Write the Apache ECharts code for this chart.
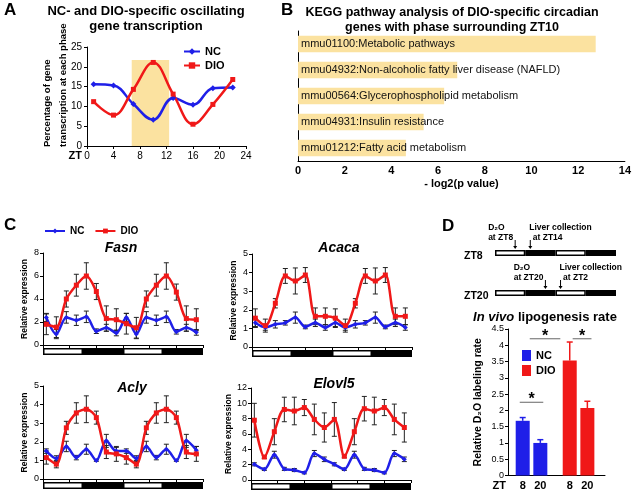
<!DOCTYPE html>
<html><head><meta charset="utf-8">
<script src="https://cdn.jsdelivr.net/npm/echarts@6/dist/echarts.min.js"></script>
<style>html,body{margin:0;padding:0;background:#fff}#c{width:634px;height:492px}</style>
</head><body><div id="c"></div>
<script>
// ---------- Panel A data ----------
const ztA = [1, 4, 7, 10, 13, 16, 19, 22];
const ncA = [15.6, 15.3, 10.6, 6.6, 12.1, 10.4, 14.6, 14.8];
const dioA = [11.2, 7.8, 14.3, 21.1, 13.1, 5.5, 10.5, 16.8];
const bandA = [6.75, 12.4, 21.7]; // shaded window: from ZT, to ZT, top

// ---------- Panel B data ----------
const keggTerms = ['mmu01100:Metabolic pathways', 'mmu04932:Non-alcoholic fatty liver disease (NAFLD)',
  'mmu00564:Glycerophospholipid metabolism', 'mmu04931:Insulin resistance', 'mmu01212:Fatty acid metabolism'];
const keggLogP = [12.75, 6.82, 6.26, 5.38, 4.62];

// ---------- Panel C data ----------
const ztC = [1, 4, 7, 10, 13, 16, 19, 22, 25, 28, 31, 34, 37, 40, 43, 46];
const lightDark = [[0, 12, 1], [12, 24, 0], [24, 36, 1], [36, 48, 0]];
const fasnNC = [2.4, 0.95, 2.4, 2.15, 2.45, 1.2, 1.5, 1.05, 2.4, 0.95, 2.4, 2.15, 2.45, 1.15, 1.5, 1.1];
const fasnNCerr = [0.35, 0.4, 0.5, 0.45, 0.5, 0.2, 0.3, 0.25, 0.35, 0.4, 0.5, 0.45, 0.5, 0.2, 0.3, 0.25];
const fasnDIO = [1.8, 1.55, 4.0, 5.2, 6.0, 4.65, 2.3, 2.2, 1.85, 1.5, 4.0, 5.2, 6.0, 4.6, 2.3, 2.2];
const fasnDIOerr = [0.9, 0.9, 0.7, 0.95, 1.15, 0.7, 1.1, 0.95, 0.9, 0.9, 0.7, 0.95, 1.15, 0.7, 1.1, 0.95];
const acacaNC = [1.3, 1.05, 1.22, 1.3, 1.58, 1.08, 1.3, 1.05, 1.3, 1.05, 1.22, 1.3, 1.58, 1.08, 1.3, 1.05];
const acacaNCerr = [0.2, 0.15, 0.2, 0.12, 0.3, 0.1, 0.2, 0.15, 0.2, 0.15, 0.2, 0.12, 0.3, 0.1, 0.2, 0.15];
const acacaDIO = [1.55, 1.15, 2.35, 3.82, 3.55, 3.87, 1.65, 1.65, 1.55, 1.15, 2.35, 3.82, 3.55, 3.87, 1.65, 1.65];
const acacaDIOerr = [0.5, 0.35, 0.25, 0.4, 0.7, 0.4, 0.45, 0.45, 0.5, 0.35, 0.25, 0.4, 0.7, 0.4, 0.45, 0.45];
const aclyNC = [1.5, 1.1, 1.75, 1.15, 1.6, 1.0, 2.05, 1.5, 1.5, 1.1, 1.75, 1.15, 1.6, 1.0, 2.05, 1.55];
const aclyNCerr = [0.12, 0.15, 0.28, 0.12, 0.27, 0.05, 0.35, 0.2, 0.12, 0.15, 0.28, 0.12, 0.27, 0.05, 0.35, 0.2];
const aclyDIO = [1.15, 0.8, 2.75, 3.55, 3.75, 3.3, 1.45, 1.35, 1.15, 0.8, 2.75, 3.55, 3.75, 3.3, 1.45, 1.35];
const aclyDIOerr = [0.35, 0.2, 0.35, 0.55, 0.72, 0.35, 0.35, 0.4, 0.35, 0.2, 0.35, 0.55, 0.72, 0.35, 0.35, 0.4];
const elovlNC = [2.05, 1.4, 3.3, 1.45, 1.3, 0.95, 3.45, 2.7, 2.05, 1.4, 3.3, 1.45, 1.3, 0.95, 3.45, 2.7];
const elovlNCerr = [0.2, 0.15, 0.45, 0.2, 0.2, 0.15, 0.4, 0.3, 0.2, 0.15, 0.45, 0.2, 0.2, 0.15, 0.4, 0.3];
const elovlDIO = [7.8, 3.0, 6.3, 9.2, 9.0, 9.45, 7.9, 6.85, 7.9, 3.1, 6.3, 9.3, 9.0, 9.45, 7.9, 6.85];
const elovlDIOerr = [2.2, 0.2, 1.7, 1.6, 1.8, 1.05, 2.0, 1.9, 2.2, 0.2, 1.7, 1.6, 1.8, 1.05, 2.0, 1.9];

// ---------- Panel D data ----------
const dLabels = ['8', '20', '8', '20'];
const dPos = [2.5, 5.5, 10.5, 13.5];
const dNC = [1.68, 1.0];
const dNCerr = [0.1, 0.1];
const dDIO = [3.53, 2.07];
const dDIOerr = [0.57, 0.21];
const dSig = [[2, 6, 2.25], [3.7, 8.9, 4.2], [11, 14.2, 4.2]];
const schedZT8 = [[8, 'D₂O', 'at ZT8', 'left'], [14, 'Liver collection', 'at ZT14', 'right']];
const schedZT20 = [[20, 'D₂O', 'at ZT20', 'left'], [26, 'Liver collection', 'at ZT2', 'right']];

// ---------- styling ----------
const FONT = 'Arial, "Liberation Sans", sans-serif';
const BLUE = '#1f1fe8', RED = '#f01818', GOLD = '#fbe2a0';
const mctx = document.createElement('canvas').getContext('2d');
function tw(t, size) { mctx.font = 'bold ' + size + 'px ' + FONT; return mctx.measureText(t).width; }

const grids = [], xAxes = [], yAxes = [], series = [];
function addGrid(g, xa, ya) {
  const i = grids.length; grids.push(g);
  xa.gridIndex = i; ya.gridIndex = i; xAxes.push(xa); yAxes.push(ya); return i;
}
const AL = { show: true, lineStyle: { color: '#000', width: 1 } };
const hidden = { show: false };

function ldRender(params, api) {
  const p0 = api.coord([api.value(0), 1]), p1 = api.coord([api.value(1), 0]);
  const r = { x: p0[0], y: p0[1], width: p1[0] - p0[0], height: p1[1] - p0[1] };
  const ch = [{ type: 'rect', shape: r, style: { fill: '#000' } }];
  if (api.value(2)) ch.push({ type: 'rect', shape: { x: r.x + 1.5, y: r.y + 1.5, width: r.width - 3, height: r.height - 3 }, style: { fill: '#fff' } });
  return { type: 'group', children: ch };
}
function errBar(cap, color, upOnly, lw) {
  return function (params, api) {
    const x = api.value(0), y = api.value(1), e = api.value(2);
    const t = api.coord([x, y + e]), b = api.coord(upOnly ? [x, y] : [x, y - e]);
    const st = { stroke: color, lineWidth: lw };
    const ch = [
      { type: 'line', shape: { x1: t[0], y1: t[1], x2: b[0], y2: b[1] }, style: st },
      { type: 'line', shape: { x1: t[0] - cap, y1: t[1], x2: t[0] + cap, y2: t[1] }, style: st }];
    if (!upOnly) ch.push({ type: 'line', shape: { x1: b[0] - cap, y1: b[1], x2: b[0] + cap, y2: b[1] }, style: st });
    return { type: 'group', children: ch };
  };
}
function lightBar(left, top, width, height) {
  const g = addGrid({ left, top, width, height },
    { type: 'value', min: 0, max: 48, show: false },
    { type: 'value', min: 0, max: 1, show: false });
  series.push({ type: 'custom', xAxisIndex: g, yAxisIndex: g, renderItem: ldRender, data: lightDark, silent: true, encode: { x: [0, 1] } });
  return g;
}

// ---------- Panel A ----------
const gA = addGrid({ left: 87, top: 47, width: 159, height: 99 },
  { type: 'value', min: 0, max: 24, interval: 4, axisLine: AL, axisTick: { length: 3, lineStyle: { color: '#000' } },
    axisLabel: { fontSize: 10, color: '#000', margin: 5 }, splitLine: hidden,
    name: 'ZT', nameLocation: 'start', nameGap: 5, nameMoveOverlap: false,
    nameTextStyle: { fontSize: 11, fontWeight: 'bold', color: '#000', verticalAlign: 'top', padding: [4, 0, 0, 0] } },
  { type: 'value', min: 0, max: 25, interval: 5, axisLine: AL, axisTick: { length: 3, lineStyle: { color: '#000' } },
    axisLabel: { fontSize: 10, color: '#000', margin: 5 }, splitLine: hidden });
series.push({ type: 'line', name: 'NC', xAxisIndex: gA, yAxisIndex: gA, data: ztA.map((x, i) => [x, ncA[i]]), smooth: 0.4,
  symbol: 'diamond', symbolSize: 6, lineStyle: { color: BLUE, width: 2.5 }, itemStyle: { color: BLUE }, z: 3,
  markArea: { silent: true, itemStyle: { color: GOLD }, data: [[{ xAxis: bandA[0], yAxis: 0 }, { xAxis: bandA[1], yAxis: bandA[2] }]] } });
series.push({ type: 'line', name: 'DIO', xAxisIndex: gA, yAxisIndex: gA, data: ztA.map((x, i) => [x, dioA[i]]), smooth: 0.4,
  symbol: 'rect', symbolSize: 5, lineStyle: { color: RED, width: 2.5 }, itemStyle: { color: RED }, z: 3 });

// ---------- Panel B ----------
const gB = addGrid({ left: 298, top: 31, width: 332, height: 130 },
  { type: 'value', min: 0, max: 14, interval: 2, axisLine: AL, axisTick: { length: 3, lineStyle: { color: '#000' } },
    axisLabel: { fontSize: 11, fontWeight: 'bold', color: '#000', margin: 4 }, splitLine: hidden,
    name: '- log2(p value)', nameLocation: 'middle', nameGap: 17, nameTextStyle: { fontSize: 11, fontWeight: 'bold', color: '#000' } },
  { type: 'category', data: keggTerms, inverse: true, axisLine: AL, axisTick: hidden, axisLabel: hidden });
series.push({ type: 'bar', name: 'KEGG', xAxisIndex: gB, yAxisIndex: gB, data: keggLogP, barWidth: 16.6, itemStyle: { color: GOLD },
  label: { show: true, position: 'insideLeft', distance: 3, formatter: p => keggTerms[p.dataIndex], fontSize: 11, color: '#111' } });

// ---------- Panel C ----------
function cPanel(left, top, width, height, yMax, yInt, nc, ncErr, dio, dioErr) {
  const g = addGrid({ left, top, width, height },
    { type: 'value', min: 0, max: 48, interval: 8, axisLine: AL, axisTick: { length: 3, lineStyle: { color: '#000' } },
      axisLabel: hidden, splitLine: hidden },
    { type: 'value', min: 0, max: yMax, interval: yInt, axisLine: AL, axisTick: { length: 3, lineStyle: { color: '#000' } },
      axisLabel: { fontSize: 9, color: '#000', margin: 4 }, splitLine: hidden,
      name: 'Relative expression', nameLocation: 'middle', nameGap: 14, nameTextStyle: { fontSize: 8.5, fontWeight: 'bold', color: '#000' } });
  series.push({ type: 'custom', xAxisIndex: g, yAxisIndex: g, renderItem: errBar(2.5, '#222', false, 1), data: ztC.map((x, i) => [x, nc[i], ncErr[i]]), z: 2, silent: true });
  series.push({ type: 'custom', xAxisIndex: g, yAxisIndex: g, renderItem: errBar(2.5, '#222', false, 1), data: ztC.map((x, i) => [x, dio[i], dioErr[i]]), z: 2, silent: true });
  series.push({ type: 'line', name: 'NC', xAxisIndex: g, yAxisIndex: g, data: ztC.map((x, i) => [x, nc[i]]), smooth: 0.3,
    symbol: 'diamond', symbolSize: 5, lineStyle: { color: BLUE, width: 2.5 }, itemStyle: { color: BLUE }, z: 3 });
  series.push({ type: 'line', name: 'DIO', xAxisIndex: g, yAxisIndex: g, data: ztC.map((x, i) => [x, dio[i]]), smooth: 0.3,
    symbol: 'rect', symbolSize: 5, lineStyle: { color: RED, width: 2.5 }, itemStyle: { color: RED }, z: 3 });
  lightBar(left, top + height + 3, width, 7);
}
cPanel(43, 253, 160, 92, 8, 2, fasnNC, fasnNCerr, fasnDIO, fasnDIOerr);
cPanel(252, 254, 160, 93, 5, 1, acacaNC, acacaNCerr, acacaDIO, acacaDIOerr);
cPanel(43, 386, 160, 93, 5, 1, aclyNC, aclyNCerr, aclyDIO, aclyDIOerr);
cPanel(251, 388, 160, 92, 12, 2, elovlNC, elovlNCerr, elovlDIO, elovlDIOerr);

// ---------- Panel D schedule ----------
function schedRender(sched) {
  return function (params, api) {
    const ev = sched[params.dataIndex];
    const p = api.coord([api.value(0), 1]);
    const x = p[0], y = p[1];
    const fs = 8.5;
    const st = { stroke: '#000', lineWidth: 1 };
    const ch = [
      { type: 'line', shape: { x1: x, y1: y - 10, x2: x, y2: y - 3 }, style: st },
      { type: 'polygon', shape: { points: [[x - 2, y - 4], [x + 2, y - 4], [x, y - 1]] }, style: { fill: '#000' } }];
    let x1, x2;
    if (ev[3] === 'left') { x1 = x2 = x - 2 - Math.max(tw(ev[1], fs), tw(ev[2], fs)); }
    else { x1 = x - 1; x2 = x + 2.5; }
    ch.push({ type: 'text', style: { x: x1, y: y - 22.5, text: ev[1], fill: '#000', font: 'bold ' + fs + 'px ' + FONT, align: 'left', verticalAlign: 'middle' } });
    ch.push({ type: 'text', style: { x: x2, y: y - 12.5, text: ev[2], fill: '#000', font: 'bold ' + fs + 'px ' + FONT, align: 'left', verticalAlign: 'middle' } });
    return { type: 'group', children: ch };
  };
}
const gS8 = lightBar(495, 250, 121, 6);
series.push({ type: 'custom', xAxisIndex: gS8, yAxisIndex: gS8, renderItem: schedRender(schedZT8), data: schedZT8.map(e => [e[0], 1]), silent: true });
const gS20 = lightBar(495, 290, 121, 6);
series.push({ type: 'custom', xAxisIndex: gS20, yAxisIndex: gS20, renderItem: schedRender(schedZT20), data: schedZT20.map(e => [e[0], 1]), silent: true });

// ---------- Panel D bars ----------
const gD = addGrid({ left: 508, top: 329, width: 97, height: 146.5 },
  { type: 'value', min: 0, max: 16.5, axisLine: AL, axisTick: hidden, splitLine: hidden,
    axisLabel: { customValues: dPos, formatter: v => dLabels[dPos.indexOf(v)], fontSize: 11, fontWeight: 'bold', color: '#000', margin: 5 },
    name: 'ZT', nameLocation: 'start', nameGap: 2, nameMoveOverlap: false,
    nameTextStyle: { fontSize: 11, fontWeight: 'bold', color: '#000', verticalAlign: 'top', padding: [5, 0, 0, 0] } },
  { type: 'value', min: 0, max: 4.5, interval: 0.5, axisLine: AL, axisTick: { length: 3, lineStyle: { color: '#000' } },
    axisLabel: { fontSize: 9, color: '#000', margin: 4 }, splitLine: hidden,
    name: 'Relative D₂O labeling rate', nameLocation: 'middle', nameGap: 24, nameTextStyle: { fontSize: 10.5, fontWeight: 'bold', color: '#000' } });
series.push({ type: 'bar', name: 'NC-D', xAxisIndex: gD, yAxisIndex: gD, data: dNC.map((v, i) => [dPos[i], v]), barWidth: 14, barGap: '-100%', itemStyle: { color: BLUE } });
series.push({ type: 'bar', name: 'DIO-D', xAxisIndex: gD, yAxisIndex: gD, data: dDIO.map((v, i) => [dPos[i + 2], v]), barWidth: 14, barGap: '-100%', itemStyle: { color: RED } });
series.push({ type: 'custom', xAxisIndex: gD, yAxisIndex: gD, renderItem: errBar(3, BLUE, true, 1.5), data: dNC.map((v, i) => [dPos[i], v, dNCerr[i]]), z: 3, silent: true });
series.push({ type: 'custom', xAxisIndex: gD, yAxisIndex: gD, renderItem: errBar(3, RED, true, 1.5), data: dDIO.map((v, i) => [dPos[i + 2], v, dDIOerr[i]]), z: 3, silent: true });
series.push({ type: 'custom', xAxisIndex: gD, yAxisIndex: gD, silent: true, data: dSig, encode: { x: [0, 1], y: 2 },
  renderItem: function (params, api) {
    const a = api.coord([api.value(0), api.value(2)]), b = api.coord([api.value(1), api.value(2)]);
    return { type: 'group', children: [
      { type: 'line', shape: { x1: a[0], y1: a[1], x2: b[0], y2: b[1] }, style: { stroke: '#666', lineWidth: 1 } },
      { type: 'text', style: { x: (a[0] + b[0]) / 2, y: a[1] - 2.5, text: '*', fill: '#000', font: 'bold 16px ' + FONT, align: 'center', verticalAlign: 'middle' } }] };
  } });

// ---------- texts ----------
const T = (text, left, top, ts, extra) => Object.assign({ text, left, top, padding: 0, textStyle: Object.assign({ color: '#000', fontFamily: FONT }, ts) }, extra || {});
const titles = [
  T('A', 4, 2, { fontSize: 17, fontWeight: 'bold' }),
  T('B', 281, 2, { fontSize: 17, fontWeight: 'bold' }),
  T('C', 4, 217, { fontSize: 17, fontWeight: 'bold' }),
  T('D', 442, 218, { fontSize: 17, fontWeight: 'bold' }),
  T('NC- and DIO-specific oscillating\ngene transcription', 146, 4, { fontSize: 13, fontWeight: 'bold', lineHeight: 15 }, { textAlign: 'center' }),
  T('KEGG pathway analysis of DIO-specific circadian\ngenes with phase surrounding ZT10', 452, 5, { fontSize: 12.5, fontWeight: 'bold', lineHeight: 15 }, { textAlign: 'center' }),
  T('Fasn', 121, 241, { fontSize: 14, fontWeight: 'bold', fontStyle: 'italic' }, { textAlign: 'center' }),
  T('Acaca', 339, 241, { fontSize: 14, fontWeight: 'bold', fontStyle: 'italic' }, { textAlign: 'center' }),
  T('Acly', 132, 381, { fontSize: 14, fontWeight: 'bold', fontStyle: 'italic' }, { textAlign: 'center' }),
  T('Elovl5', 334, 377, { fontSize: 14, fontWeight: 'bold', fontStyle: 'italic' }, { textAlign: 'center' }),
  T('ZT8', 464, 251, { fontSize: 10.5, fontWeight: 'bold' }),
  T('ZT20', 464, 291, { fontSize: 10.5, fontWeight: 'bold' }),
  T('{i|In vivo} lipogenesis rate', 545, 311, { fontSize: 13, fontWeight: 'bold', rich: { i: { fontSize: 13, fontWeight: 'bold', fontStyle: 'italic', fontFamily: FONT } } }, { textAlign: 'center' })
];

const option = {
  animation: false,
  textStyle: { fontFamily: FONT, color: '#000' },
  title: titles,
  graphic: [{ type: 'text', x: 55, y: 147, rotation: Math.PI / 2, silent: true,
    style: { text: 'Percentage of gene\ntranscription at each phase', fill: '#000', font: 'bold 9.5px ' + FONT, lineHeight: 16, align: 'left', verticalAlign: 'middle' } }],
  legend: [
    { data: ['NC', 'DIO'], left: 183, top: 46, orient: 'vertical', itemGap: 3, itemWidth: 16, itemHeight: 8, padding: 0,
      textStyle: { fontSize: 11, fontWeight: 'bold', color: '#000' }, selectedMode: false },
    { data: ['NC', 'DIO'], left: 44, top: 226, orient: 'horizontal', itemGap: 10, itemWidth: 20, itemHeight: 6, padding: 0,
      textStyle: { fontSize: 10, fontWeight: 'bold', color: '#000' }, selectedMode: false },
    { data: ['NC-D', 'DIO-D'], left: 522, top: 350, orient: 'vertical', itemGap: 4, itemWidth: 9, itemHeight: 11, padding: 0, icon: 'rect',
      formatter: n => n.replace('-D', ''), textStyle: { fontSize: 11, fontWeight: 'bold', color: '#000' }, selectedMode: false }
  ],
  grid: grids, xAxis: xAxes, yAxis: yAxes, series
};
const chart = echarts.init(document.getElementById('c'), null, { renderer: 'canvas' });
chart.setOption(option);
</script></body></html>
